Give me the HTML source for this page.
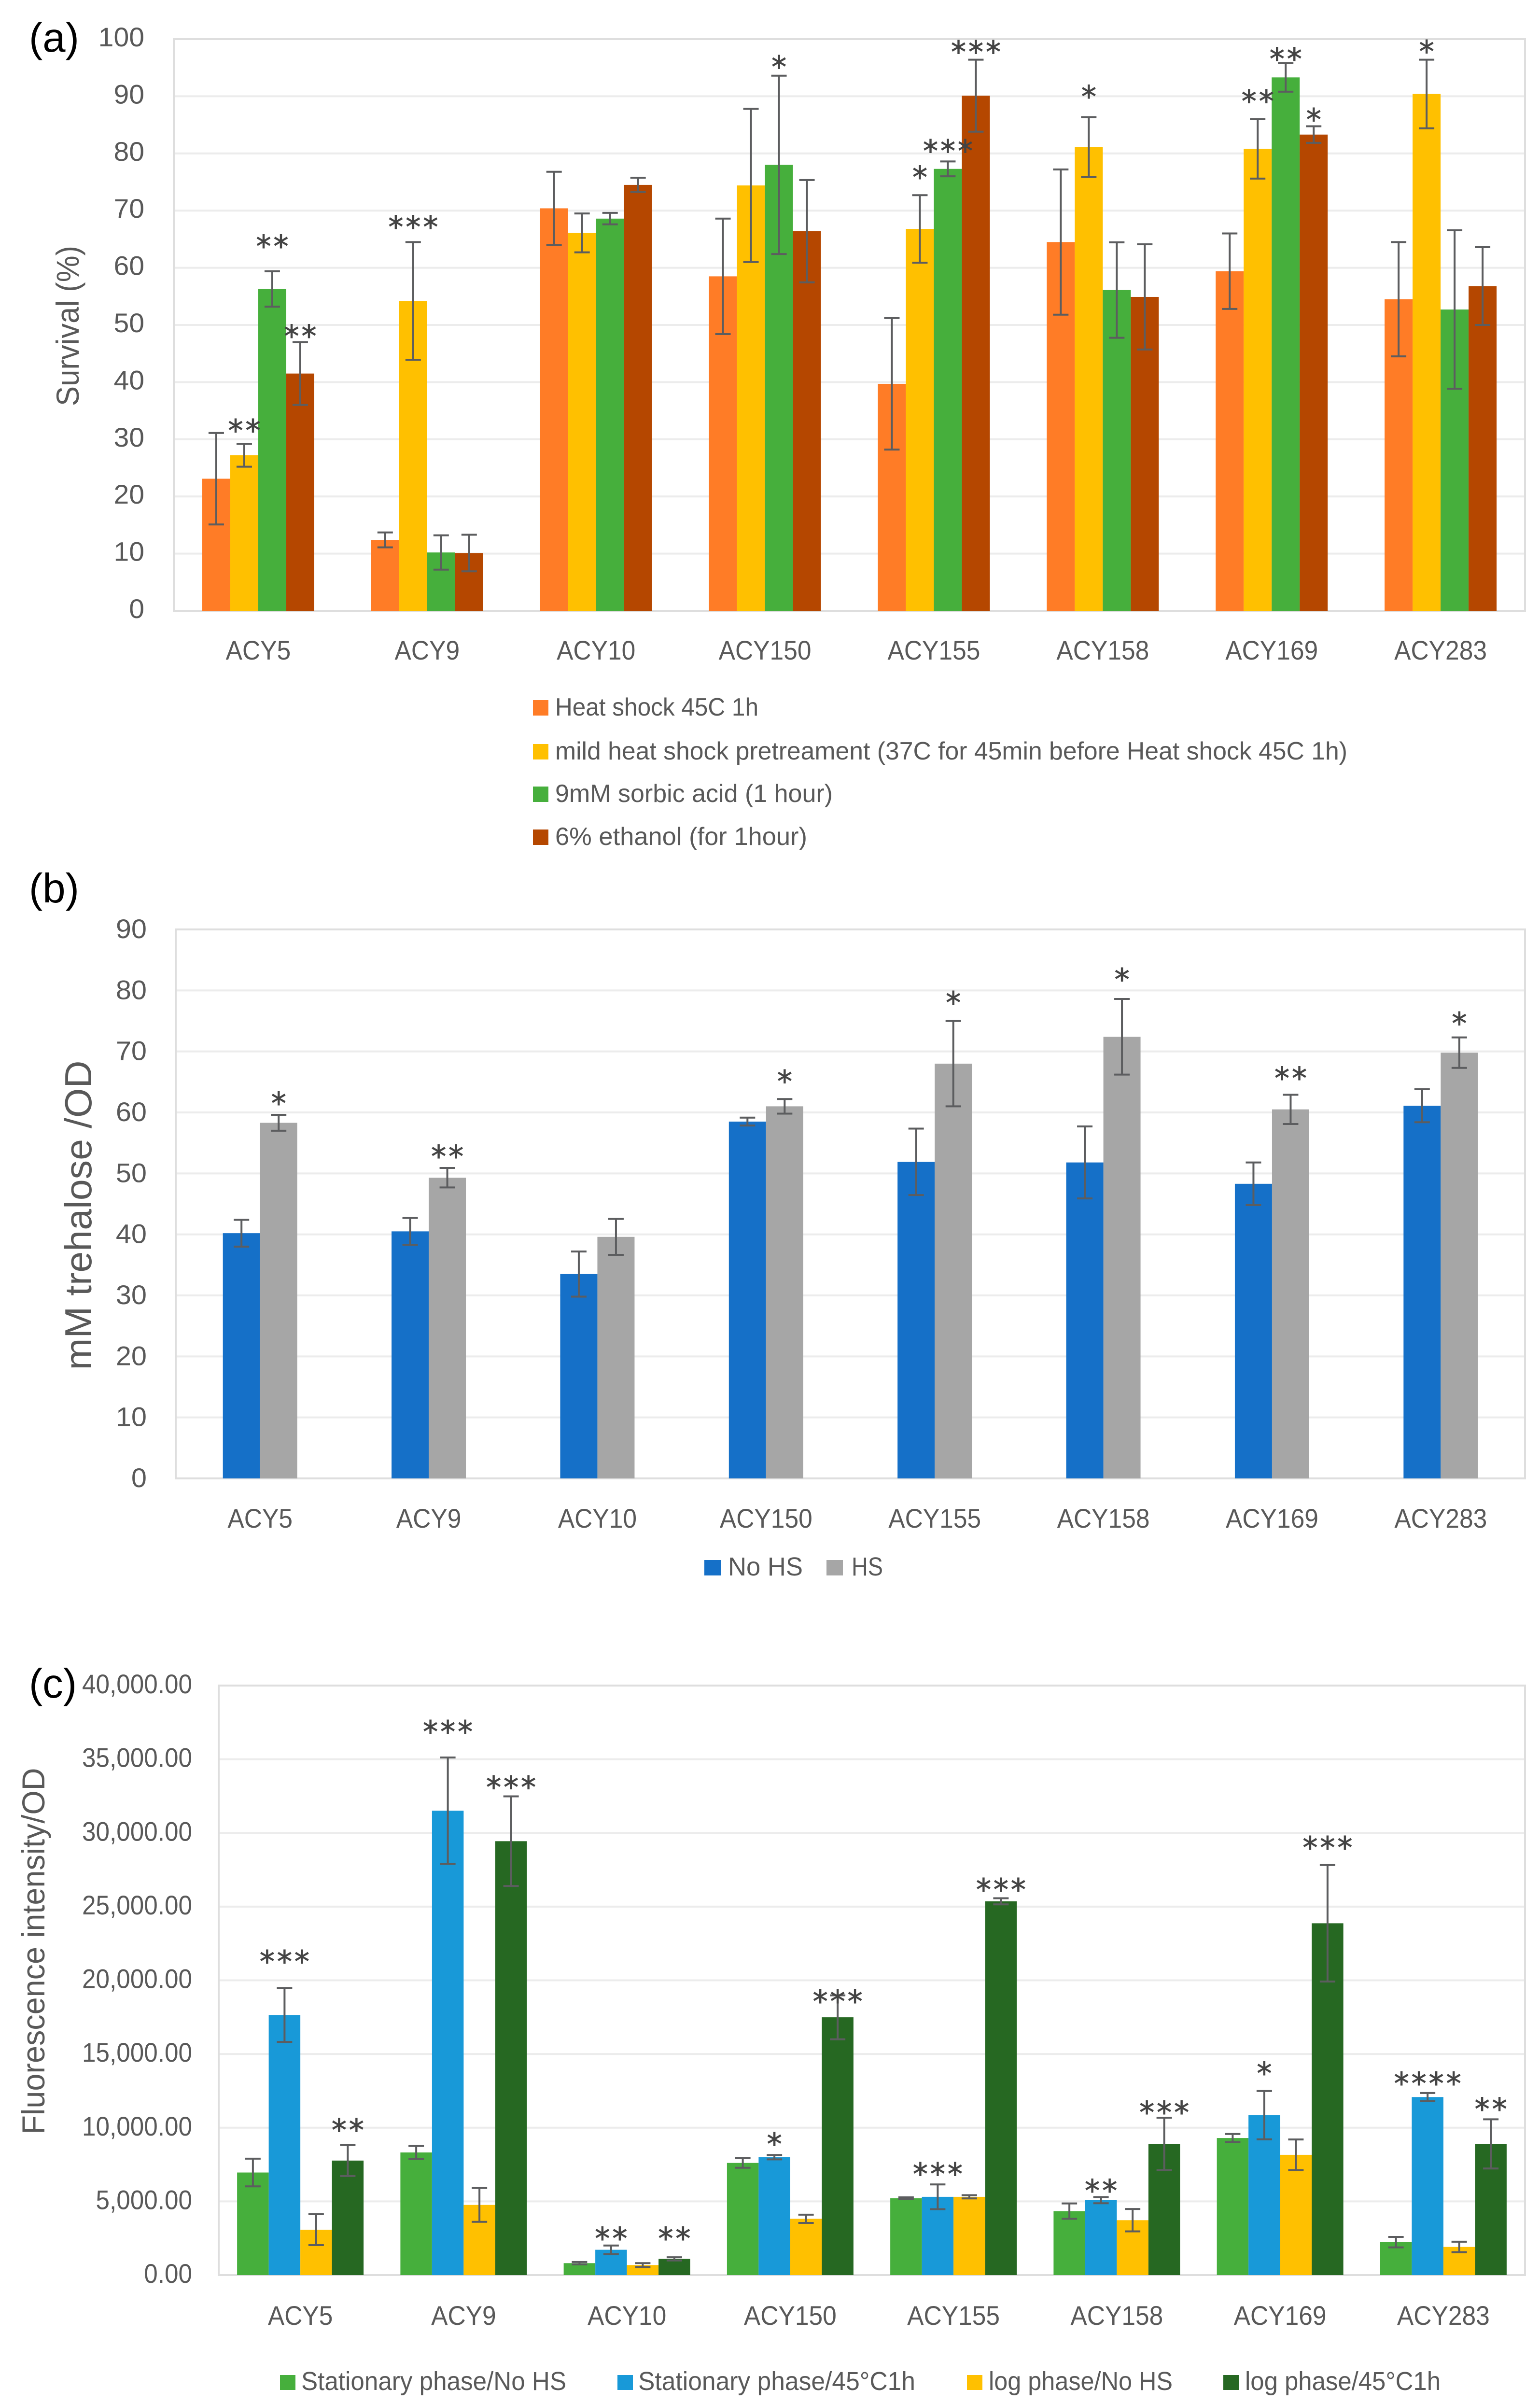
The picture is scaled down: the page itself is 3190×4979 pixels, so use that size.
<!DOCTYPE html>
<html lang="en">
<head>
<meta charset="utf-8">
<title>Survival, trehalose and fluorescence by strain</title>
<style>
html,body{margin:0;padding:0;background:#fff;width:3190px;height:4979px;overflow:hidden}
svg{display:block;font-family:"Liberation Sans",sans-serif}
</style>
</head>
<body>
<svg id="figure" xmlns="http://www.w3.org/2000/svg" width="3190" height="4979" viewBox="0 0 3190 4979">
<rect x="0" y="0" width="3190" height="4979" fill="#fff"/>
<text x="60" y="107" font-size="85" fill="#000">(a)</text>
<text x="60" y="1869" font-size="85" fill="#000">(b)</text>
<text x="60" y="3516" font-size="85" fill="#000">(c)</text>
<g id="panel-a"></g>
<g id="panel-b"></g>
<g id="panel-c"></g>
</svg>
<script>
const categories = ["ACY5","ACY9","ACY10","ACY150","ACY155","ACY158","ACY169","ACY283"];

/* Panel (a) survival % */
const ticksA = [0,10,20,30,40,50,60,70,80,90,100];
const labelsA = ["Heat shock 45C 1h","mild heat shock pretreament (37C for 45min before Heat shock 45C 1h)","9mM sorbic acid (1 hour)","6% ethanol (for 1hour)"];
const heatShock = [23.1,12.4,70.4,58.5,39.7,64.5,59.4,54.5];
const heatShockErr = [8,1.3,6.4,10.1,11.5,12.7,6.6,10];
const mildHeat = [27.2,54.2,66.1,74.4,66.8,81.1,80.8,90.4];
const mildHeatErr = [2,10.3,3.4,13.4,5.9,5.25,5.2,6];
const sorbicAcid = [56.3,10.2,68.6,78,77.3,56.1,93.3,52.7];
const sorbicAcidErr = [3.1,3,1,15.6,1.3,8.35,2.5,13.85];
const ethanol = [41.5,10.1,74.5,66.4,90.1,54.9,83.3,56.8];
const ethanolErr = [5.5,3.2,1.25,8.95,6.3,9.2,1.45,6.8];
const starCatA = [0,0,0,1,3,4,4,4,5,6,6,6,7];
const starSerA = [1,2,3,1,2,1,2,3,1,1,2,3,1];
const starTextA = ["**","**","**","***","*","*","***","***","*","**","**","*","*"];
const starValA = [32.4,64.6,48.9,68,96,76.7,81.3,98.6,90.8,90,97.4,86.8,98.7];

/* Panel (b) trehalose */
const ticksB = [0,10,20,30,40,50,60,70,80,90];
const labelsB = ["No HS","HS"];
const noHs = [40.2,40.5,33.5,58.5,51.9,51.8,48.3,61.1];
const noHsErr = [2.2,2.2,3.7,0.65,5.45,5.9,3.5,2.7];
const hs = [58.3,49.3,39.6,61,68,72.4,60.5,69.8];
const hsErr = [1.3,1.6,2.95,1.2,7,6.2,2.4,2.5];
const starCatB = [0,1,3,4,5,6,7];
const starSerB = [1,1,1,1,1,1,1];
const starTextB = ["*","**","*","*","*","**","*"];
const starValB = [62.3,53.6,65.9,78.8,82.6,66.4,75.4];

/* Panel (c) fluorescence */
const ticksC = [0,5000,10000,15000,20000,25000,30000,35000,40000];
const labelsC = ["Stationary phase/No HS","Stationary phase/45\u00B0C1h","log phase/No HS","log phase/45\u00B0C1h"];
const statNoHs = [6960,8320,810,7610,5215,4340,9300,2235];
const statNoHsErr = [940,440,80,330,60,520,275,355];
const statHeat = [17650,31510,1717,8000,5310,5085,10850,12080];
const statHeatErr = [1830,3610,290,150,840,210,1640,275];
const logNoHs = [3080,4760,680,3820,5310,3725,8160,1910];
const logNoHsErr = [1050,1150,130,280,110,760,1040,355];
const logHeat = [7770,29440,1100,17490,25360,8900,23870,8900];
const logHeatErr = [1050,3040,110,1490,210,1780,3950,1670];
const starCatC = [0,0,1,1,2,2,3,3,4,4,5,5,6,6,7,7];
const starSerC = [1,3,1,3,1,3,1,3,1,3,1,3,1,3,1,3];
const starTextC = ["***","**","***","***","**","**","*","***","***","***","**","***","*","***","****","**"];
const starValC = [21600,10170,37200,33425,2820,2820,9230,18900,7190,26490,6060,11370,14020,29340,13340,11600];

const NS = "http://www.w3.org/2000/svg";

function make(parent, tag, attrs){
  const el = document.createElementNS(NS, tag);
  for (const k in attrs) el.setAttribute(k, attrs[k]);
  parent.appendChild(el);
  return el;
}

function fitText(el, ratio, exact){
  const natural = el.getComputedTextLength();
  el.setAttribute("textLength", exact ? exact : natural * ratio);
  el.setAttribute("lengthAdjust", "spacingAndGlyphs");
}

function drawPanel(cfg){
  const g = document.getElementById(cfg.id);
  const yScale = v => cfg.bottom - v / cfg.max * (cfg.bottom - cfg.top);
  const band = (cfg.right - cfg.left) / categories.length;
  const nSeries = cfg.series.length;
  const barX = (c, s) => cfg.left + (c + 0.5) * band - nSeries * cfg.barW / 2 + s * cfg.barW;

  cfg.ticks.forEach(t => {
    const y = yScale(t);
    if (t > 0 && t < cfg.max) {
      const line = make(g, "line", {x1: cfg.left, x2: cfg.right, y1: y, y2: y, stroke: "#ececec", "stroke-width": 4});
      
      
    }
    const label = make(g, "text", {x: cfg.tickX, y: y + cfg.tickDy, "font-size": cfg.tickFont, fill: "#595959", "text-anchor": "end"});
    
    
    label.textContent = cfg.tickFormat(t);
    fitText(label, cfg.tickRatio);
  });

  const frame = make(g, "rect", {x: cfg.left, y: cfg.top, width: cfg.right - cfg.left, height: cfg.bottom - cfg.top, fill: "none", stroke: "#dedede", "stroke-width": 4});
  
  

  categories.forEach((name, c) => {
    const label = make(g, "text", {x: cfg.left + (c + 0.5) * band, y: cfg.xLabelY, "font-size": 56, fill: "#595959", "text-anchor": "middle"});
    
    
    label.textContent = name;
    fitText(label, 0.92);
  });

  cfg.series.forEach((vals, s) => {
    vals.forEach((v, c) => {
      const x = barX(c, s);
      const y = yScale(v);
      const bar = make(g, "rect", {x: x, y: y, width: cfg.barW, height: yScale(0) - y, fill: cfg.colors[s]});
      
      
    });
  });

  cfg.series.forEach((vals, s) => {
    vals.forEach((v, c) => {
      const cx = barX(c, s) + cfg.barW / 2;
      const e = cfg.errors[s][c];
      const yHi = yScale(v + e);
      const yLo = yScale(v - e);
      const stem = make(g, "line", {x1: cx, x2: cx, y1: yHi, y2: yLo, stroke: "#5c5d5f", "stroke-width": 4});
      
      
      [yHi, yLo].forEach(yy => {
        const cap = make(g, "line", {x1: cx - 16, x2: cx + 16, y1: yy, y2: yy, stroke: "#5c5d5f", "stroke-width": 4});
        
        
      });
    });
  });

  cfg.starText.forEach((txt, i) => {
    const x = barX(cfg.starCat[i], cfg.starSer[i]) + cfg.barW / 2 + 2.5;
    const star = make(g, "text", {x: x, y: yScale(cfg.starVal[i]) + 32, "font-size": 62, "font-family": '"DejaVu Sans",sans-serif', "letter-spacing": 5, fill: "#444", stroke: "#444", "stroke-width": 1, "text-anchor": "middle"});
    
    
    star.textContent = txt;
  });

  const title = make(g, "text", {transform: "translate(" + cfg.titleX + " " + cfg.titleY + ") rotate(-90)", "font-size": cfg.titleFont, fill: "#595959", "text-anchor": "middle"});
  
  
  title.textContent = cfg.title;
  fitText(title, 1, cfg.titleLen);

  cfg.legend.forEach((item, i) => {
    const sw = make(g, "rect", {x: item[0], y: item[2] - cfg.swH, width: cfg.swW, height: cfg.swH, fill: cfg.colors[i]});
    
    
    const t = make(g, "text", {x: item[1], y: item[2], "font-size": cfg.legendFont, fill: "#595959"});
    
    
    t.textContent = cfg.labels[i];
    fitText(t, 1, item[3]);
  });
}

drawPanel({
  id: "panel-a", left: 360, right: 3159, top: 81, bottom: 1265, max: 100, barW: 58,
  ticks: ticksA, tickFormat: t => String(t), tickX: 299, tickDy: 15, tickFont: 56, tickRatio: 1.02,
  xLabelY: 1366,
  series: [heatShock, mildHeat, sorbicAcid, ethanol],
  errors: [heatShockErr, mildHeatErr, sorbicAcidErr, ethanolErr],
  colors: ["#FF7C26", "#FFC000", "#46AF3C", "#B54700"],
  starCat: starCatA, starSer: starSerA, starText: starTextA, starVal: starValA,
  title: "Survival (%)", titleX: 163, titleY: 675, titleFont: 66, titleLen: 332,
  labels: labelsA, swW: 32, swH: 32, legendFont: 52,
  legend: [[1104,1150,1482,421],[1104,1150,1573,1641],[1104,1150,1661,575],[1104,1150,1750,522]]
});

drawPanel({
  id: "panel-b", left: 364, right: 3159, top: 1925, bottom: 3062, max: 90, barW: 77,
  ticks: ticksB, tickFormat: t => String(t), tickX: 304, tickDy: 18, tickFont: 56, tickRatio: 1.03,
  xLabelY: 3164,
  series: [noHs, hs],
  errors: [noHsErr, hsErr],
  colors: ["#1570C8", "#A6A6A6"],
  starCat: starCatB, starSer: starSerB, starText: starTextB, starVal: starValB,
  title: "mM trehalose /OD", titleX: 189, titleY: 2517, titleFont: 78, titleLen: 641,
  labels: labelsB, swW: 34, swH: 32, legendFont: 54,
  legend: [[1459,1508,3263,155],[1712,1764,3263,65]]
});

drawPanel({
  id: "panel-c", left: 453, right: 3159, top: 3491, bottom: 4712, max: 40000, barW: 65.5,
  ticks: ticksC, tickFormat: t => t.toLocaleString("en-US", {minimumFractionDigits: 2, maximumFractionDigits: 2}), tickX: 398, tickDy: 16, tickFont: 56, tickRatio: 0.915,
  xLabelY: 4815,
  series: [statNoHs, statHeat, logNoHs, logHeat],
  errors: [statNoHsErr, statHeatErr, logNoHsErr, logHeatErr],
  colors: ["#46AF3C", "#1899D8", "#FFC000", "#266822"],
  starCat: starCatC, starSer: starSerC, starText: starTextC, starVal: starValC,
  title: "Fluorescence intensity/OD", titleX: 92, titleY: 4041, titleFont: 66, titleLen: 759,
  labels: labelsC, swW: 32, swH: 31, legendFont: 54,
  legend: [[580,624,4950,549],[1279,1322,4950,574],[2003,2048,4950,381],[2534,2579,4950,405]]
});
</script>
</body>
</html>
